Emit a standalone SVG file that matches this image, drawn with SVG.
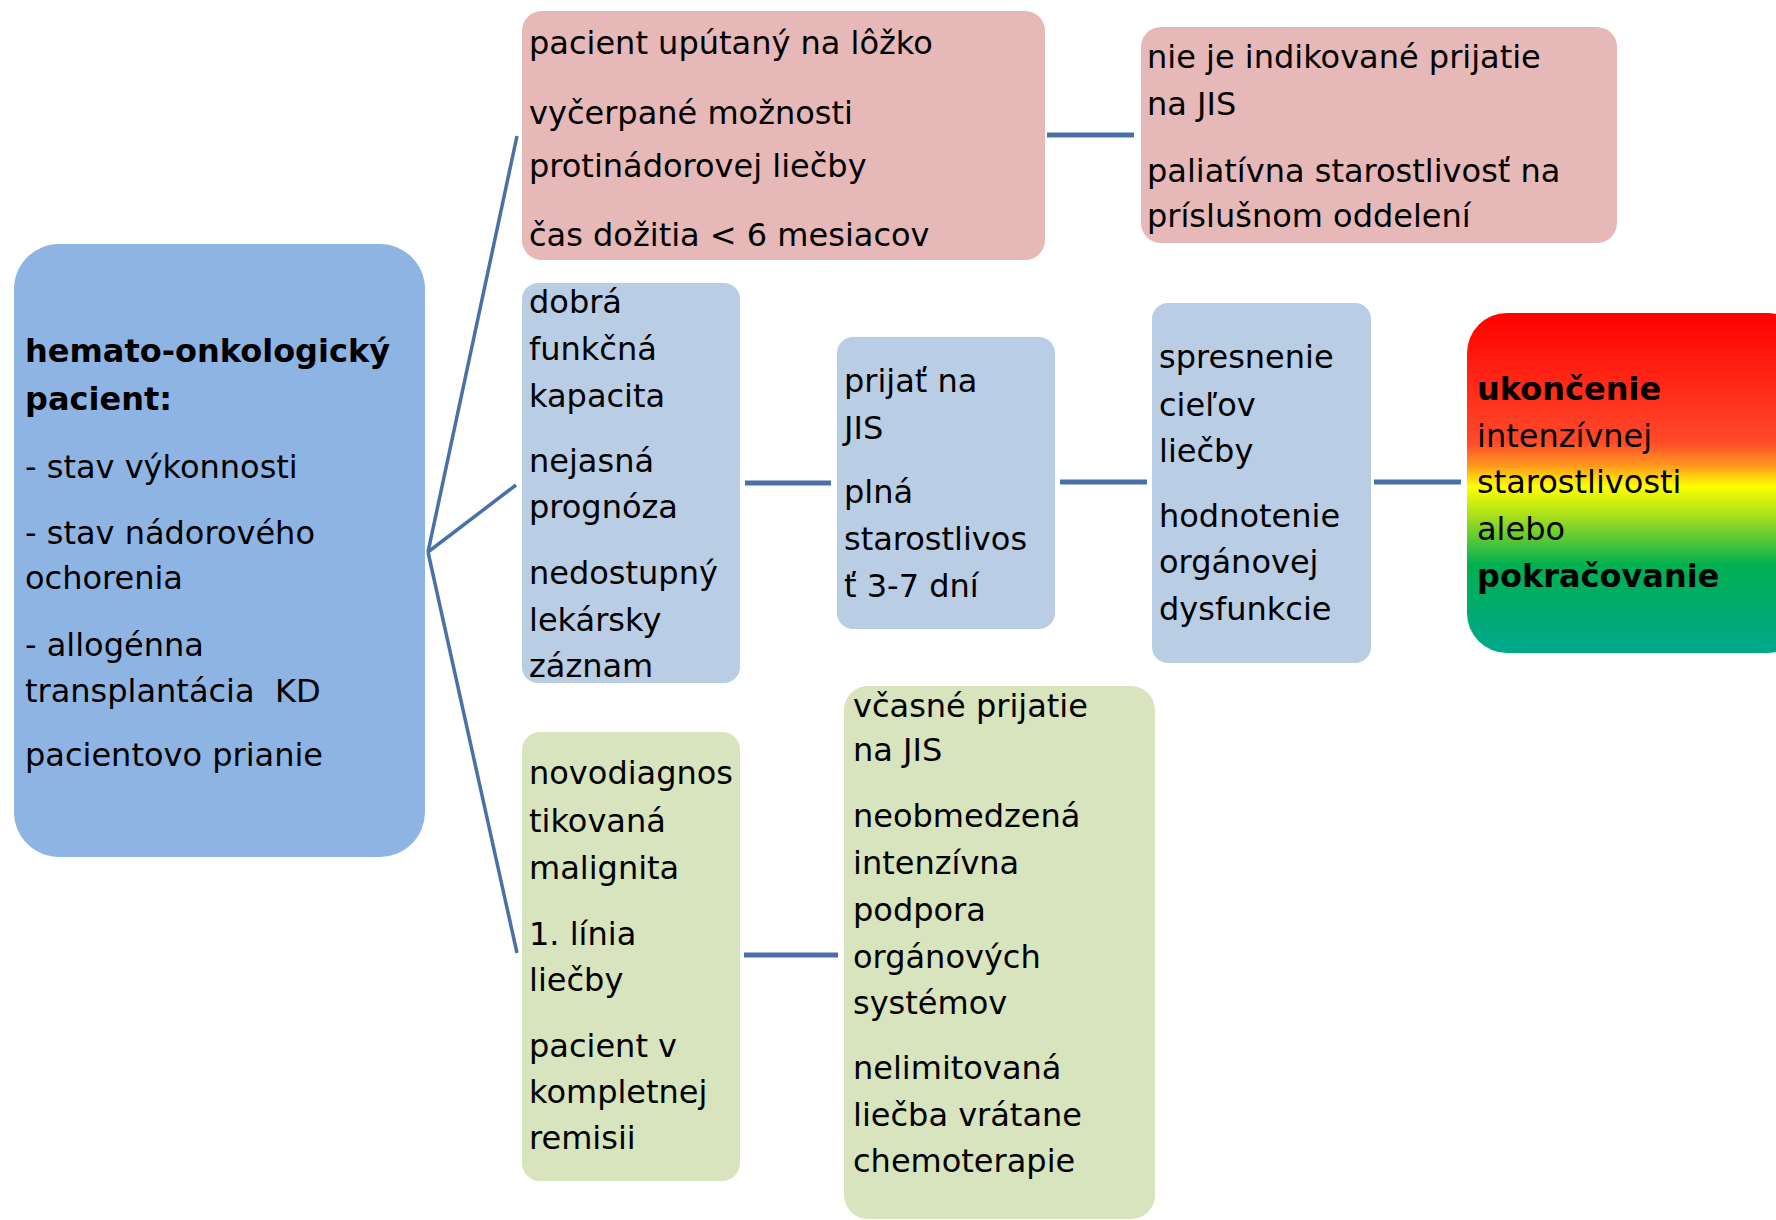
<svg xmlns="http://www.w3.org/2000/svg" width="1776" height="1220" viewBox="0 0 1776 1220">
<style>
text{font-family:"DejaVu Sans","Liberation Sans",sans-serif;font-size:32px;fill:#000}
.b{font-weight:bold}
.c{stroke:#4A70A8;fill:none}
.fan{stroke-width:3.5}
.h{stroke-width:5}
</style>
<defs>
<linearGradient id="g" x1="0" y1="0" x2="0" y2="1">
<stop offset="0" stop-color="#FF0000"/>
<stop offset="0.38" stop-color="#FF4A2A"/>
<stop offset="0.45" stop-color="#FF9A1C"/>
<stop offset="0.51" stop-color="#FFFF00"/>
<stop offset="0.6" stop-color="#A4DE1E"/>
<stop offset="0.74" stop-color="#00B050"/>
<stop offset="1" stop-color="#00A88E"/>
</linearGradient>
</defs>
<g id="connectors">
<line class="c fan" x1="428" y1="552" x2="517" y2="136"/>
<line class="c fan" x1="428" y1="552" x2="516" y2="485"/>
<line class="c fan" x1="428" y1="552" x2="517" y2="953"/>
<line class="c h" x1="1047" y1="135" x2="1134" y2="135"/>
<line class="c h" x1="745" y1="483" x2="831" y2="483"/>
<line class="c h" x1="1060" y1="482" x2="1147" y2="482"/>
<line class="c h" x1="1374" y1="482" x2="1461" y2="482"/>
<line class="c h" x1="744" y1="955" x2="838" y2="955"/>
</g>
<g id="main">
<rect x="14" y="244" width="411" height="613" rx="45" fill="#8EB4E3"/>
<text x="25" y="362" class="b">hemato-onkologický</text>
<text x="25" y="410" class="b">pacient:</text>
<text x="25" y="478">- stav výkonnosti</text>
<text x="25" y="544">- stav nádorového</text>
<text x="25" y="589">ochorenia</text>
<text x="25" y="656">- allogénna</text>
<text x="25" y="702" xml:space="preserve">transplantácia  KD</text>
<text x="25" y="766">pacientovo prianie</text>
</g>
<g id="pink1">
<rect x="522" y="11" width="523" height="249" rx="20" fill="#E6B8B7"/>
<text x="529" y="54">pacient upútaný na lôžko</text>
<text x="529" y="124">vyčerpané možnosti</text>
<text x="529" y="177">protinádorovej liečby</text>
<text x="529" y="246">čas dožitia &lt; 6 mesiacov</text>
</g>
<g id="pink2">
<rect x="1141" y="27" width="476" height="216" rx="20" fill="#E6B8B7"/>
<text x="1147" y="68">nie je indikované prijatie</text>
<text x="1147" y="115">na JIS</text>
<text x="1147" y="182">paliatívna starostlivosť na</text>
<text x="1147" y="227">príslušnom oddelení</text>
</g>
<g id="blue1">
<rect x="522" y="283" width="218" height="400" rx="16" fill="#B9CDE5"/>
<text x="529" y="313">dobrá</text>
<text x="529" y="360">funkčná</text>
<text x="529" y="407">kapacita</text>
<text x="529" y="472">nejasná</text>
<text x="529" y="518">prognóza</text>
<text x="529" y="584">nedostupný</text>
<text x="529" y="631">lekársky</text>
<text x="529" y="677">záznam</text>
</g>
<g id="blue2">
<rect x="837" y="337" width="218" height="292" rx="16" fill="#B9CDE5"/>
<text x="844" y="392">prijať na</text>
<text x="844" y="439">JIS</text>
<text x="844" y="503">plná</text>
<text x="844" y="550">starostlivos</text>
<text x="844" y="597">ť 3-7 dní</text>
</g>
<g id="blue3">
<rect x="1152" y="303" width="219" height="360" rx="16" fill="#B9CDE5"/>
<text x="1159" y="368">spresnenie</text>
<text x="1159" y="416">cieľov</text>
<text x="1159" y="462">liečby</text>
<text x="1159" y="527">hodnotenie</text>
<text x="1159" y="573">orgánovej</text>
<text x="1159" y="620">dysfunkcie</text>
</g>
<g id="outcome">
<rect x="1467" y="313" width="340" height="340" rx="40" fill="url(#g)"/>
<text x="1477" y="400" class="b">ukončenie</text>
<text x="1477" y="447">intenzívnej</text>
<text x="1477" y="493">starostlivosti</text>
<text x="1477" y="540">alebo</text>
<text x="1477" y="587" class="b">pokračovanie</text>
</g>
<g id="green1">
<rect x="522" y="732" width="218" height="449" rx="18" fill="#D7E4BD"/>
<text x="529" y="784">novodiagnos</text>
<text x="529" y="832">tikovaná</text>
<text x="529" y="879">malignita</text>
<text x="529" y="945">1. línia</text>
<text x="529" y="991">liečby</text>
<text x="529" y="1057">pacient v</text>
<text x="529" y="1103">kompletnej</text>
<text x="529" y="1149">remisii</text>
</g>
<g id="green2">
<rect x="844" y="686" width="311" height="533" rx="24" fill="#D7E4BD"/>
<text x="853" y="717">včasné prijatie</text>
<text x="853" y="761">na JIS</text>
<text x="853" y="827">neobmedzená</text>
<text x="853" y="874">intenzívna</text>
<text x="853" y="921">podpora</text>
<text x="853" y="968">orgánových</text>
<text x="853" y="1014">systémov</text>
<text x="853" y="1079">nelimitovaná</text>
<text x="853" y="1126">liečba vrátane</text>
<text x="853" y="1172">chemoterapie</text>
</g>
</svg>
